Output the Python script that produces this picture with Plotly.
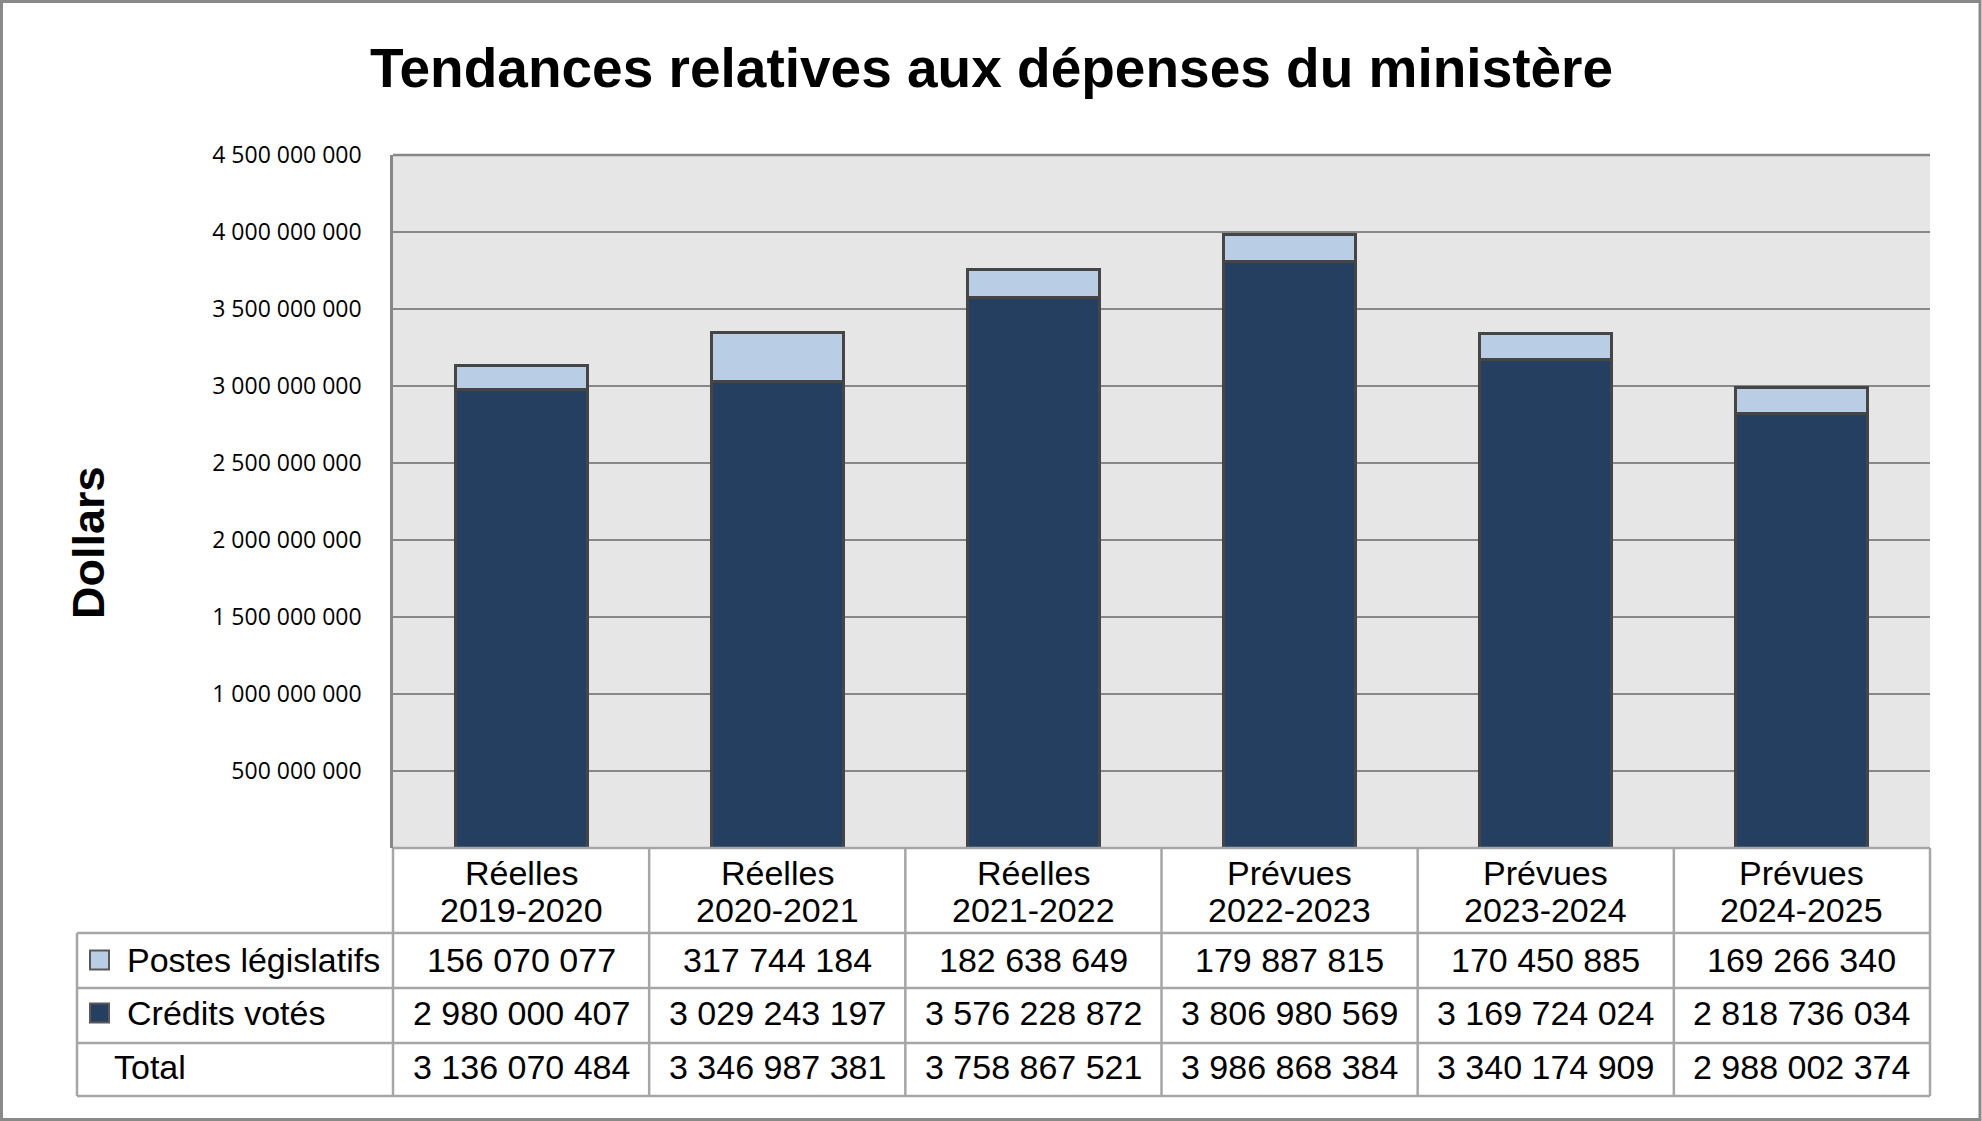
import plotly.graph_objects as go

# ---------------- data ----------------
title_text = "Tendances relatives aux dépenses du ministère"
y_title = "Dollars"
period_types = ["Réelles", "Réelles", "Réelles", "Prévues", "Prévues", "Prévues"]
years = ["2019-2020", "2020-2021", "2021-2022", "2022-2023", "2023-2024", "2024-2025"]
categories = [f"{t} {y}" for t, y in zip(period_types, years)]
statutory = [156070077, 317744184, 182638649, 179887815, 170450885, 169266340]
voted = [2980000407, 3029243197, 3576228872, 3806980569, 3169724024, 2818736034]
series_names = ["Postes législatifs", "Crédits votés"]
total_label = "Total"
y_tickvals = [0, 500000000, 1000000000, 1500000000, 2000000000,
              2500000000, 3000000000, 3500000000, 4000000000, 4500000000]

totals = [s + v for s, v in zip(statutory, voted)]


def fmt(n):
    return f"{n:,}".replace(",", " ")


y_ticktext = ["" if v == 0 else fmt(v) for v in y_tickvals]

# ---------------- style ----------------
W, H = 1982, 1121
L, R, T, B = 393, 1930, 155, 848
XMIN, XMAX = -0.5, len(categories) - 0.5
DARK = "#243F60"
LIGHT = "#B9CDE5"
EDGE = "#454545"
GRID = "#888888"
TLINE = "#A6A6A6"
FONT = "Liberation Sans, Arial, sans-serif"


def px_x(x):
    return (x - L) / (R - L)


def px_y(y):
    return (B - y) / (B - T)


def cat_x(i):
    return (i - XMIN) / (XMAX - XMIN)


fig = go.Figure()
fig.add_trace(go.Bar(x=categories, y=voted, name=series_names[1],
                     marker=dict(color=DARK, line=dict(color=EDGE, width=3))))
fig.add_trace(go.Bar(x=categories, y=statutory, name=series_names[0],
                     marker=dict(color=LIGHT, line=dict(color=EDGE, width=3))))

shapes = []
# outer frame
shapes.append(dict(type="rect", xref="paper", yref="paper",
                   x0=px_x(1.5), x1=px_x(1980), y0=px_y(1.5), y1=px_y(1119.5),
                   line=dict(color="#898989", width=3), fillcolor="rgba(0,0,0,0)"))
# top border of plot
shapes.append(dict(type="line", xref="paper", yref="paper",
                   x0=0, x1=1, y0=1, y1=1, line=dict(color=GRID, width=2.5)))
# table lines
row_lines = [933, 988, 1043, 1096]
shapes.append(dict(type="line", xref="paper", yref="paper", layer="above",
                   x0=0, x1=1, y0=px_y(848), y1=px_y(848),
                   line=dict(color=TLINE, width=2.5)))
for yy in row_lines:
    shapes.append(dict(type="line", xref="paper", yref="paper", layer="above",
                       x0=px_x(77), x1=1, y0=px_y(yy), y1=px_y(yy),
                       line=dict(color=TLINE, width=2.5)))
shapes.append(dict(type="line", xref="paper", yref="paper", layer="above",
                   x0=px_x(77), x1=px_x(77), y0=px_y(933), y1=px_y(1096),
                   line=dict(color=TLINE, width=2.5)))
for i in range(len(categories) + 1):
    xb = cat_x(i - 0.5)
    shapes.append(dict(type="line", xref="paper", yref="paper", layer="above",
                       x0=xb, x1=xb, y0=px_y(848), y1=px_y(1096),
                       line=dict(color=TLINE, width=2.5)))
# legend squares
row_centers = [960, 1013, 1067]
for yc, col in zip(row_centers[:2], [LIGHT, DARK]):
    shapes.append(dict(type="rect", xref="paper", yref="paper", layer="above",
                       x0=px_x(90), x1=px_x(109), y0=px_y(yc + 9.5), y1=px_y(yc - 9.5),
                       fillcolor=col, line=dict(color="#595959", width=2)))

ann = []
ann.append(dict(text=f"<b>{title_text}</b>", xref="paper", yref="paper",
                x=px_x(991), y=px_y(68), showarrow=False,
                xanchor="center", yanchor="middle",
                font=dict(family=FONT, size=55, color="black")))
ann.append(dict(text=f"<b>{y_title}</b>", xref="paper", yref="paper",
                x=px_x(88), y=px_y(543), showarrow=False, textangle=-90,
                xanchor="center", yanchor="middle",
                font=dict(family=FONT, size=45, color="black")))
tfont = dict(family=FONT, size=34, color="black")
for i in range(len(categories)):
    ann.append(dict(text=period_types[i], xref="paper", yref="paper", x=cat_x(i),
                    y=px_y(873), showarrow=False, xanchor="center", yanchor="middle", font=tfont))
    ann.append(dict(text=years[i], xref="paper", yref="paper", x=cat_x(i),
                    y=px_y(910), showarrow=False, xanchor="center", yanchor="middle", font=tfont))
    for yc, vals in zip(row_centers, [statutory, voted, totals]):
        ann.append(dict(text=fmt(vals[i]), xref="paper", yref="paper", x=cat_x(i),
                        y=px_y(yc), showarrow=False, xanchor="center", yanchor="middle", font=tfont))
row_labels = [series_names[0], series_names[1], total_label]
row_label_x = [125, 125, 112]
for lab, lx, yc in zip(row_labels, row_label_x, row_centers):
    ann.append(dict(text=lab, xref="paper", yref="paper", x=px_x(lx), y=px_y(yc),
                    showarrow=False, xanchor="left", yanchor="middle", font=tfont))

fig.update_layout(
    width=W, height=H,
    margin=dict(l=L, r=W - R, t=T, b=H - B, autoexpand=False),
    paper_bgcolor="white", plot_bgcolor="#E6E6E6",
    barmode="stack", bargap=0.485, showlegend=False,
    shapes=shapes, annotations=ann,
    xaxis=dict(range=[XMIN, XMAX], showticklabels=False, showgrid=False,
               zeroline=False, showline=False, fixedrange=True),
    yaxis=dict(range=[0, 4500000000], tickvals=y_tickvals, ticktext=y_ticktext,
               showgrid=True, gridcolor=GRID, gridwidth=2, zeroline=False,
               showline=True, linecolor=GRID, linewidth=2.5, ticks="",
               ticklabelstandoff=24,
               tickfont=dict(family="Open Sans, sans-serif", size=23, color="black"),
               fixedrange=True),
)

fig.write_html("out.html", config={"displayModeBar": False},
               post_script="document.body.style.margin='0';document.body.style.overflow='hidden';")
